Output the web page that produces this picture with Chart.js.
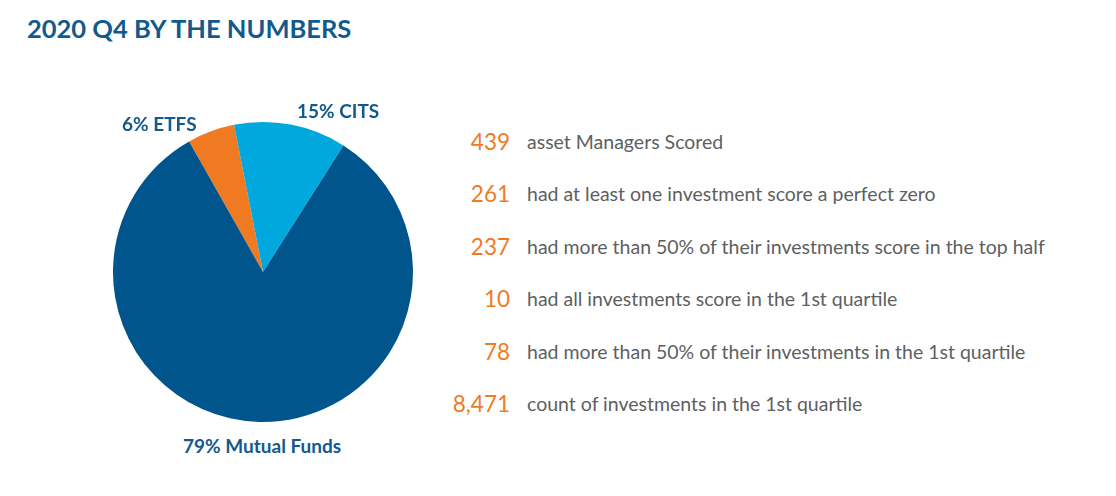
<!DOCTYPE html>
<html>
<head>
<meta charset="utf-8">
<script src="https://cdn.jsdelivr.net/npm/chart.js@4"></script>
<style>
  body{ margin:0; width:1116px; height:496px; background:#fff; font-family:Lato, "Open Sans", sans-serif; position:relative; overflow:hidden; }
  #title{ position:absolute; left:27px; top:13px; font-size:25.5px; font-weight:700; color:#125a8c; }
  #pieWrap{ position:absolute; left:103px; top:112px; width:320px; height:320px; }
  .slabel{ position:absolute; font-size:19px; font-weight:700; color:#125a8c; white-space:nowrap; }
  #stats{ position:absolute; left:430px; top:127px; }
  .row{ height:52.4px; display:flex; align-items:flex-start; }
  .num{ width:80px; text-align:right; font-size:22.5px; color:#f07a22; line-height:30px; }
  .txt{ margin-left:17px; font-size:19.5px; color:#5e5f61; line-height:30px; white-space:nowrap; }
</style>
</head>
<body>
<div id="title">2020 Q4 BY THE NUMBERS</div>
<div id="pieWrap"><canvas id="pie" width="320" height="320"></canvas></div>
<div class="slabel" id="lbl0" style="left:122px; top:112px;"></div>
<div class="slabel" id="lbl1" style="left:297px; top:99px;"></div>
<div class="slabel" id="lbl2" style="left:183px; top:434px;"></div>
<div id="stats"></div>

<script>
// slice order follows the drawing, clockwise from the ETFS edge
const SLICE_LABELS = ["6% ETFS", "15% CITS", "79% Mutual Funds"];
const SLICE_VALUES = [5.1, 12.1, 82.8];   // as drawn in the picture
const SLICE_COLORS = ["#f07a22", "#00a8dd", "#00558c"];

const STAT_NUMBERS = ["439", "261", "237", "10", "78", "8,471"];
const STAT_TEXTS = [
  "asset Managers Scored",
  "had at least one investment score a perfect zero",
  "had more than 50% of their investments score in the top half",
  "had all investments score in the 1st quartile",
  "had more than 50% of their investments in the 1st quartile",
  "count of investments in the 1st quartile"
];

function byId(id){ return document.getElementById(id); }

SLICE_LABELS.forEach((t,i)=>{ byId('lbl'+i).textContent = t; });

const stats = byId('stats');
STAT_NUMBERS.forEach((n,i)=>{
  const row = document.createElement('div');
  row.className = 'row';
  row.innerHTML = `<span class="num">${n}</span><span class="txt">${STAT_TEXTS[i]}</span>`;
  stats.appendChild(row);
});

new Chart(byId('pie').getContext('2d'), {
  type: 'pie',
  data: {
    labels: SLICE_LABELS,
    datasets: [{ data: SLICE_VALUES, backgroundColor: SLICE_COLORS, borderWidth: 0 }]
  },
  options: {
    responsive: false,
    animation: false,
    rotation: -29.5,
    layout: { padding: 10 },
    events: [],
    plugins: { legend: { display: false }, tooltip: { enabled: false } }
  }
});
</script>
</body>
</html>
